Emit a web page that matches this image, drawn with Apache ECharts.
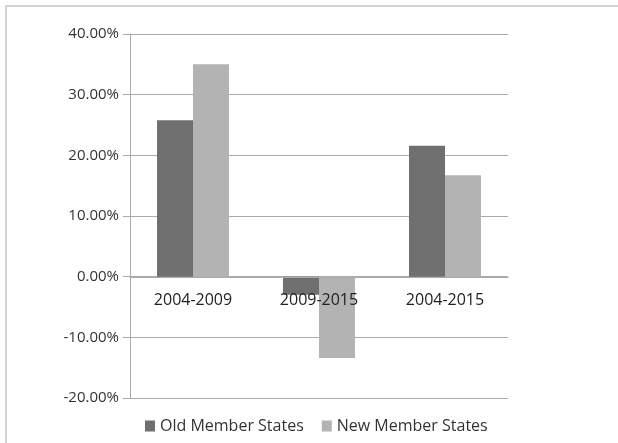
<!DOCTYPE html>
<html>
<head>
<meta charset="utf-8">
<script src="https://cdn.jsdelivr.net/npm/echarts@6/dist/echarts.min.js"></script>
</head>
<body style="margin:0;background:#fff">
<div style="position:absolute;left:5px;top:5px;width:613px;height:438px;border-top:2px solid #d4d4d4;border-left:2px solid #d4d4d4"></div>
<div id="main" style="position:absolute;left:0;top:0;width:618px;height:443px"></div>
<script type="text/javascript">
var periods = ['2004-2009', '2009-2015', '2004-2015'];
var oldStates = [25.8, -3.0, 21.6];
var newStates = [35.0, -13.4, 16.7];
var yTicks = {min: -20, max: 40, step: 10};

var chart = echarts.init(document.getElementById('main'));
var font = 'Open Sans';
var option = {
    animation: false,
    grid: {left: 130, right: 110, top: 34, bottom: 45, containLabel: false},
    legend: {
        top: 413,
        left: 140,
        itemWidth: 10,
        itemHeight: 11,
        itemGap: 18,
        icon: 'rect',
        textStyle: {fontFamily: font, fontSize: 16, color: '#333'},
        data: ['Old Member States', 'New Member States']
    },
    xAxis: {
        type: 'category',
        data: periods,
        z: 5,
        // sit the axis on the 0% line (398 - 277 px)
        offset: -121,
        axisLine: {onZero: false, lineStyle: {color: '#aaa'}},
        axisTick: {show: false},
        axisLabel: {margin: 15, fontFamily: font, fontSize: 16, color: '#222'}
    },
    yAxis: {
        type: 'value',
        min: yTicks.min,
        max: yTicks.max,
        interval: yTicks.step,
        axisLine: {show: true, lineStyle: {color: '#aaa'}},
        axisTick: {show: true, length: 7, lineStyle: {color: '#aaa'}},
        splitLine: {lineStyle: {color: '#aaa'}},
        axisLabel: {
            fontFamily: font, fontSize: 15, color: '#333', margin: 11,
            formatter: function (v) { return v.toFixed(2) + '%'; }
        }
    },
    series: [
        {name: 'Old Member States', type: 'bar', data: oldStates, barWidth: 36, barGap: '0%',
         itemStyle: {color: '#6f6f6f'}},
        {name: 'New Member States', type: 'bar', data: newStates, barWidth: 36,
         itemStyle: {color: '#b3b3b3'}}
    ]
};
chart.setOption(option);
</script>
</body>
</html>
